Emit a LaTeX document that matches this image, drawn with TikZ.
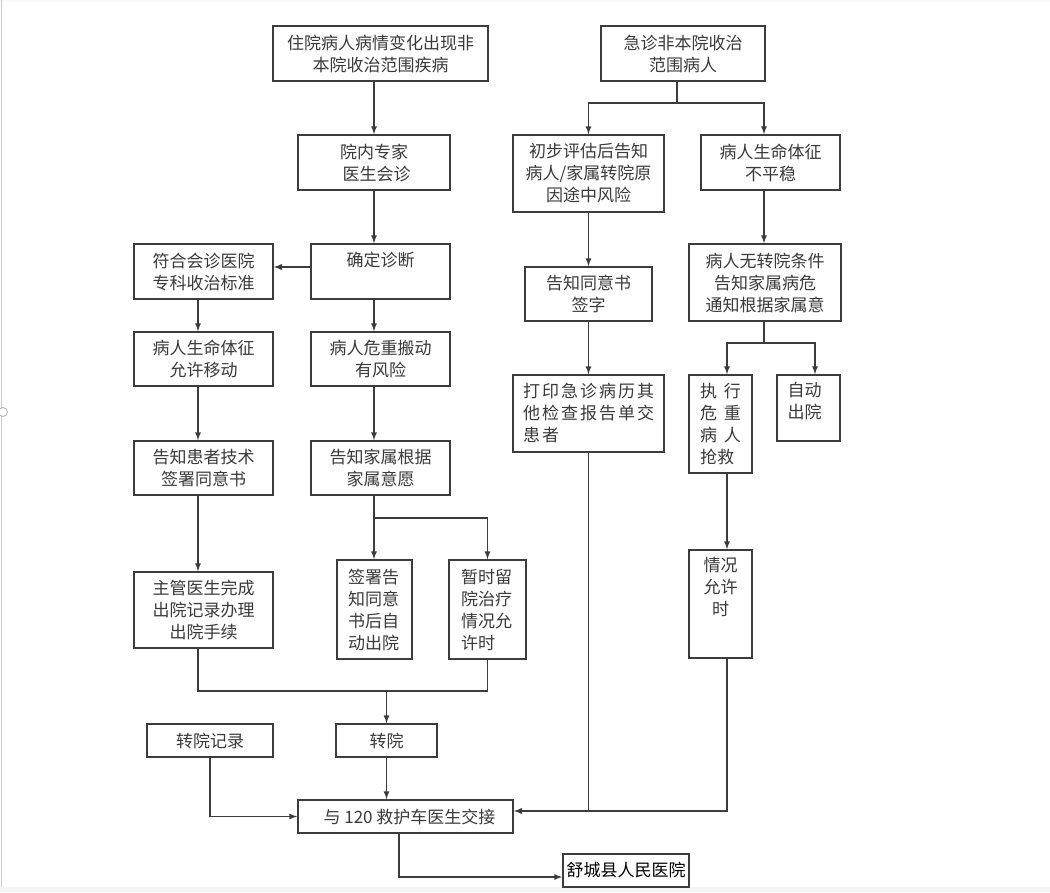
\documentclass[tikz,border=0pt]{standalone}
\usepackage{fontspec}
\setmainfont{Noto Sans CJK SC}
\newfontfamily\widefont{Noto Sans CJK SC}[LetterSpace=12]
\usetikzlibrary{positioning}
\definecolor{linegray}{HTML}{3C3C3C}
\definecolor{textgray}{HTML}{3A3A3A}

\begin{document}
\begin{tikzpicture}[x=1pt, y=-1pt,
  box/.style 2 args={draw=linegray, line width=1.7pt, fill=white, inner sep=0pt, align=center, text=textgray, font=\fontsize{17}{22}\selectfont, minimum width=#1, minimum height=#2},
  txt/.style={inner sep=0pt, align=center, text=textgray, font=\fontsize{17}{22}\selectfont},
  line/.style={draw=linegray, line width=1.7pt},
  arr/.style={line, -latex}]
\useasboundingbox (0,0) rectangle (1050,892);
\fill[gray!5] (0,0) rectangle (1050,2);
\fill[gray!9] (0,887) rectangle (1050,892);
\draw[gray!40, line width=1.2pt] (1.5,0) -- (1.5,887);
\draw[gray!60, fill=white, line width=0.8pt] (3,412) circle (4.5);

\coordinate (leftcol) at (198,0);
\coordinate (midcol) at (374,0);
\coordinate (rightcol) at (764,0);
\coordinate (vcol) at (727,0);
\coordinate (wcol) at (815,0);

\node[box={215}{55}] (A) at (380.5,53.5) {住院病人病情变化出现非\\本院收治范围疾病};
\node[box={152}{55}] (B) at (374,162.5) {院内专家\\\hspace{5pt}医生会诊};
\node[box={139}{55}] (C) at (380.5,271.5) {};
\node[txt, below=9pt of C.north] (ctext) {确定诊断};
\node[box={139}{55}] (D) at (203.5,271.5) {符合会诊医院\\专科收治标准};
\node[box={139}{54}] (E) at (203.5,359) {病人生命体征\\允许移动};
\node[box={139}{54}] (F) at (380.5,359) {病人危重搬动\\有风险};
\node[box={139}{54}] (G) at (203.5,468) {告知患者技术\\签署同意书};
\node[box={139}{54}] (H) at (380.5,468) {告知家属根据\\家属意愿};
\node[box={139}{76}] (I) at (203.5,610) {主管医生完成\\出院记录办理\\出院手续};
\node[box={75}{99}, align=left, text width=53pt] (J1) at (374.5,609.5) {签署告\\知同意\\书后自\\动出院};
\node[box={77}{99}, align=left, text width=53pt] (J2) at (487.5,609.5) {暂时留\\院治疗\\情况允\\许时};
\node[box={126}{33}] (K) at (210,740.5) {转院记录};
\node[box={101}{33}] (L) at (386.5,740.5) {转院};
\node[box={215}{33}] (M) at (405.5,816.5) {\hspace{8pt}与 120 救护车医生交接};
\node[box={126}{33}, text=black, font=\fontsize{17}{22}\selectfont] (N) at (626,870.5) {舒城县人民医院};

\node[box={164}{55}] (P) at (683,53.5) {急诊非本院收治\\范围病人};
\node[box={151}{77}] (Q) at (588.5,173.5) {初步评估后告知\\病人/家属转院原\\因途中风险};
\node[box={139}{55}] (R) at (770.5,162.5) {病人生命体征\\不平稳};
\node[box={127}{54}] (S) at (588.5,294) {告知同意书\\签字};
\node[box={152}{77}] (T) at (765,282.5) {病人无转院条件\\告知家属病危\\通知根据家属意};
\node[box={151}{77}, align=left, text width=131pt, font=\fontsize{17}{22}\widefont] (U) at (588.5,413.5) {打印急诊病历其\\他检查报告单交\\患者};
\node[box={63}{98}, align=left, text width=41pt] (V) at (720.5,424) {执\hspace{7pt}行\\危\hspace{7pt}重\\病\hspace{7pt}人\\抢救};
\node[box={63}{66}] (W) at (808.5,408) {};
\node[txt, below=8pt of W.north, xshift=-4pt] (wtext) {自动\\出院};
\node[box={63}{108}] (X) at (720.5,604) {};
\node[txt, below=8pt of X.north] (xtext) {情况\\允许\\时};

\coordinate (merge) at (386.5,691);
\coordinate (psplit) at (677,103);
\coordinate (tsplit) at (764,343);
\coordinate (mjoin) at ([yshift=5.5pt]M.east);

\draw[arr] (A.south -| midcol) -- (B.north -| midcol);
\draw[arr] (B.south -| midcol) -- (C.north -| midcol);
\draw[arr] ([yshift=4.5pt]C.west) -- ([yshift=4.5pt]D.east);
\draw[arr] (D.south -| leftcol) -- (E.north -| leftcol);
\draw[arr] (C.south -| midcol) -- (F.north -| midcol);
\draw[arr] (E.south -| leftcol) -- (G.north -| leftcol);
\draw[arr] (F.south -| midcol) -- (H.north -| midcol);
\draw[arr] (G.south -| leftcol) -- (I.north -| leftcol);
\draw[arr] (H.south -| midcol) -- (J1.north -| midcol);
\draw[arr] (H.south -| midcol) -- ++(0,22) -| (J2.north);
\draw[line] (I.south -| leftcol) |- (merge) -| (J2.south);
\draw[arr] (merge) -- (L.north);
\draw[arr] (L.south) -- (L.south |- M.north);
\draw[arr] (K.south) |- (M.west);
\draw[arr] ([xshift=-6.5pt]M.south) |- ([yshift=-6.5pt]N.west);

\draw[line] (P.south -| psplit) -- (psplit);
\draw[arr] (psplit) -| (Q.north);
\draw[arr] (psplit) -| (R.north -| rightcol);
\draw[arr] (Q.south) -- (S.north);
\draw[arr] (S.south) -- (U.north);
\draw[arr] (R.south -| rightcol) -- (T.north -| rightcol);
\draw[line] (T.south -| rightcol) -- (tsplit);
\draw[arr] (tsplit) -| (V.north -| vcol);
\draw[arr] (tsplit) -| (W.north -| wcol);
\draw[arr] (V.south -| vcol) -- (X.north -| vcol);
\draw[arr] (X.south -| vcol) |- (mjoin);
\draw[line] (U.south) -- (U.south |- mjoin);
\end{tikzpicture}
\end{document}
